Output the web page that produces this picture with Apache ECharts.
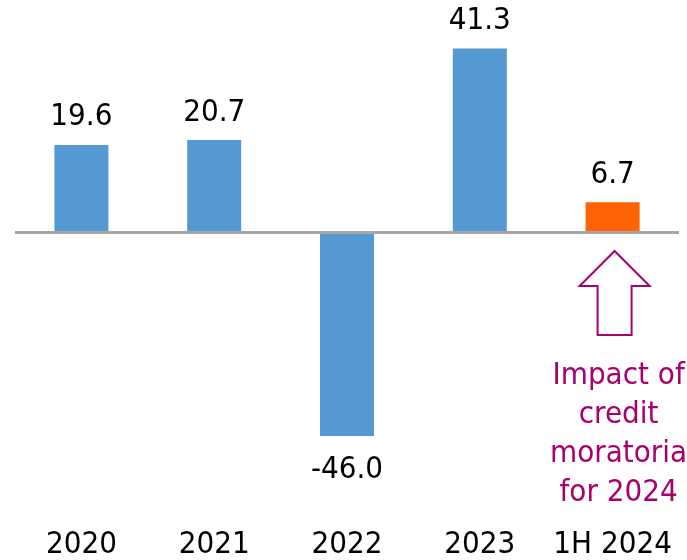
<!DOCTYPE html>
<html>
<head>
    <meta charset="UTF-8">
    <title></title>
    <script type="text/javascript" src="https://cdn.jsdelivr.net/npm/echarts@6/dist/echarts.min.js"></script>
    <style>
        html, body { margin: 0; padding: 0; background: #fff; }
    </style>
</head>
<body>
<div id="main" style="width: 687px; height: 560px;"></div>
<script>
    // data
    var categories = ['2020', '2021', '2022', '2023', '1H 2024'];
    var values = [19.6, 20.7, -46.0, 41.3, 6.7];
    var noteLines = ['Impact of', 'credit', 'moratoria', 'for 2024'];

    var blue = '#5599d3';
    var orange = '#ff6200';
    var magenta = '#a8006d';
    var font = '"DejaVu Sans Condensed", "DejaVu Sans", sans-serif';

    var barData = [];
    for (var i = 0; i < values.length; i++) {
        var v = values[i];
        barData.push({
            value: v,
            itemStyle: { color: i === values.length - 1 ? orange : blue },
            label: { position: v < 0 ? 'bottom' : 'top', distance: v < 0 ? 18 : 12 }
        });
    }

    var myChart = echarts.init(document.getElementById('main'));
    myChart.setOption({
        animation: false,
        grid: {
            left: 15,
            right: 8,
            top: 10,
            bottom: 37
        },
        xAxis: {
            type: 'category',
            data: categories,
            axisLine: { show: false, onZero: false },
            axisTick: { show: false },
            axisLabel: {
                interval: 0,
                margin: 13,
                color: '#000',
                fontSize: 31,
                fontFamily: font
            }
        },
        yAxis: {
            type: 'value',
            min: -64,
            max: 50,
            show: false,
            splitLine: { show: false }
        },
        series: [{
            type: 'bar',
            data: barData,
            barWidth: 54,
            label: {
                show: true,
                color: '#000',
                fontSize: 31,
                fontFamily: font,
                formatter: function (p) { return p.value.toFixed(1); }
            },
            markLine: {
                silent: true,
                symbol: 'none',
                label: { show: false },
                lineStyle: { color: '#a6a6a6', width: 3, type: 'solid' },
                data: [{ yAxis: 0 }]
            }
        }]
    });

    // arrow and note below the last bar
    var p = myChart.convertToPixel({ xAxisIndex: 0, yAxisIndex: 0 }, [categories.length - 1, 0]);
    var cx = p[0] + 2, y0 = p[1];
    myChart.setOption({
        graphic: [{
            type: 'polygon',
            shape: {
                points: [
                    [cx, y0 + 19], [cx + 35, y0 + 54], [cx + 17, y0 + 54],
                    [cx + 17, y0 + 103], [cx - 17, y0 + 103], [cx - 17, y0 + 54],
                    [cx - 35, y0 + 54]
                ]
            },
            style: { fill: '#fff', stroke: magenta, lineWidth: 2 }
        }, {
            type: 'text',
            x: cx + 4,
            y: y0 + 125,
            style: {
                text: noteLines.join('\n'),
                fill: magenta,
                font: '31px ' + font,
                lineHeight: 39,
                align: 'center',
                verticalAlign: 'top'
            }
        }]
    });
</script>
</body>
</html>
